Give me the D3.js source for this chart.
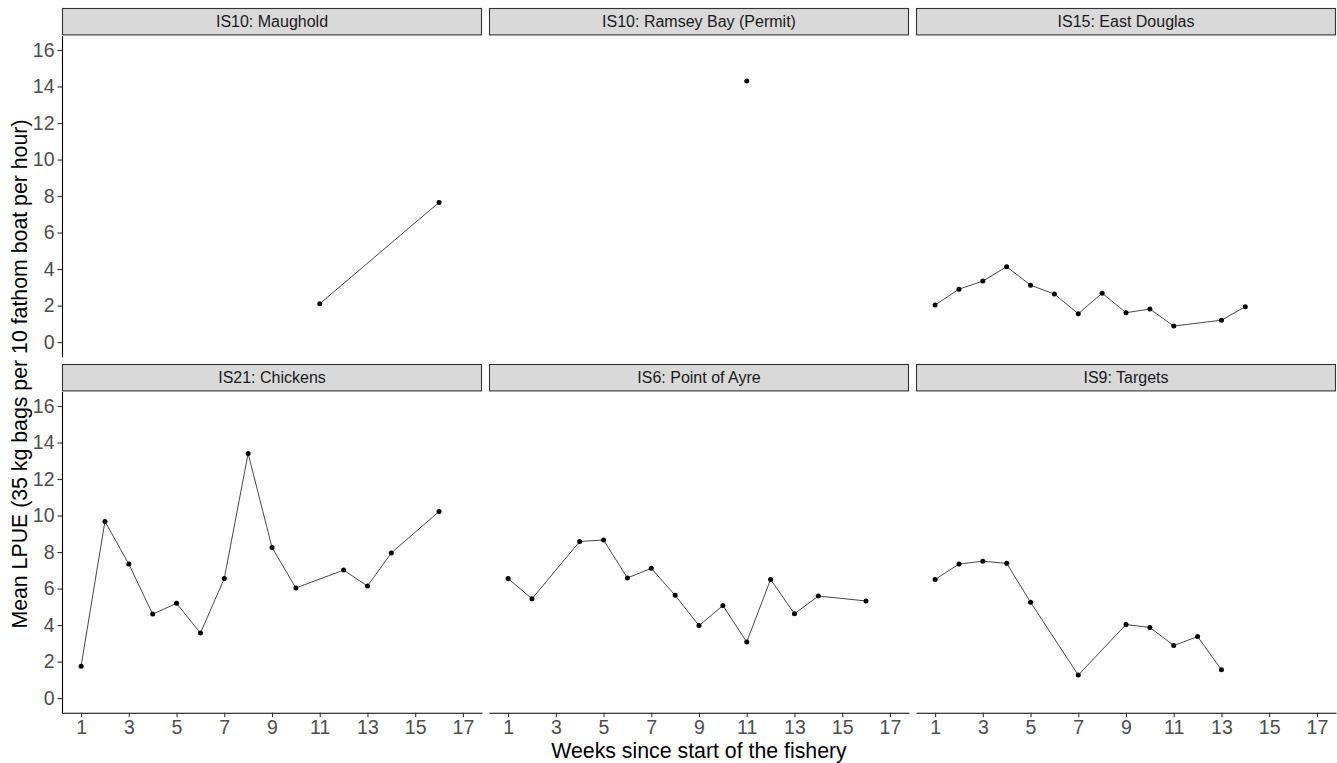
<!DOCTYPE html>
<html>
<head>
<meta charset="utf-8">
<script src="https://cdn.jsdelivr.net/npm/d3@7"></script>
<style>
  html, body { margin: 0; padding: 0; background: #fff; }
  svg { display: block; font-family: "Liberation Sans", Arial, sans-serif; }
</style>
</head>
<body>
<svg id="chart" width="1337" height="763"></svg>
<script>
// ---- Data ----
const panelNames = [
  "IS10: Maughold", "IS10: Ramsey Bay (Permit)", "IS15: East Douglas",
  "IS21: Chickens", "IS6: Point of Ayre", "IS9: Targets"
];

const weeksMaughold = [11, 16];
const lpueMaughold  = [2.1, 7.65];

const weeksRamsey = [11];
const lpueRamsey  = [14.3];

const weeksEastDouglas = [1, 2, 3, 4, 5, 6, 7, 8, 9, 10, 11, 13, 14];
const lpueEastDouglas  = [2.03, 2.9, 3.34, 4.13, 3.12, 2.63, 1.55, 2.68, 1.61, 1.81, 0.88, 1.2, 1.94];

const weeksChickens = [1, 2, 3, 4, 5, 6, 7, 8, 9, 10, 12, 13, 14, 16];
const lpueChickens  = [1.75, 9.68, 7.34, 4.6, 5.19, 3.56, 6.55, 13.4, 8.25, 6.03, 7.01, 6.14, 7.95, 10.22];

const weeksPointOfAyre = [1, 2, 4, 5, 6, 7, 8, 9, 10, 11, 12, 13, 14, 16];
const lpuePointOfAyre  = [6.55, 5.44, 8.58, 8.66, 6.58, 7.11, 5.63, 3.97, 5.07, 3.07, 6.5, 4.62, 5.59, 5.32];

const weeksTargets = [1, 2, 3, 4, 5, 7, 9, 10, 11, 12, 13];
const lpueTargets  = [6.5, 7.34, 7.5, 7.38, 5.25, 1.26, 4.03, 3.87, 2.88, 3.37, 1.55];

const xTicks = [1, 3, 5, 7, 9, 11, 13, 15, 17];
const yTicks = [0, 2, 4, 6, 8, 10, 12, 14, 16];

const xTitle = "Weeks since start of the fishery";
const yTitle = "Mean LPUE (35 kg bags per 10 fathom boat per hour)";

const panelWeeks = [weeksMaughold, weeksRamsey, weeksEastDouglas, weeksChickens, weeksPointOfAyre, weeksTargets];
const panelLpue  = [lpueMaughold, lpueRamsey, lpueEastDouglas, lpueChickens, lpuePointOfAyre, lpueTargets];

// ---- Layout ----
const svg = d3.select("#chart");
const plotLeft = 62, colW = 420, colGap = 7;
const stripTop = [8, 364], stripH = 27.4;
const panelH = 321.3;

const x = d3.scaleLinear().domain([0.2, 17.8]).range([0, colW]);
const y = d3.scaleLinear().domain([-0.8, 16.8]).range([panelH, 0]);

const line = d3.line().x(d => x(d.w)).y(d => y(d.v));

panelNames.forEach((name, i) => {
  const col = i % 3, row = Math.floor(i / 3);
  const left = plotLeft + col * (colW + colGap);
  const sTop = stripTop[row];
  const pTop = sTop + stripH;

  // strip
  svg.append("rect")
    .attr("x", left + 0.5).attr("y", sTop + 0.5)
    .attr("width", colW - 1).attr("height", stripH - 1)
    .attr("fill", "#d9d9d9").attr("stroke", "#333").attr("stroke-width", 1.1);
  svg.append("text")
    .attr("x", left + colW / 2).attr("y", sTop + stripH / 2 + 5.7)
    .attr("text-anchor", "middle")
    .attr("font-size", 16).attr("fill", "#1a1a1a")
    .text(name);

  const g = svg.append("g").attr("transform", `translate(${left},${pTop})`);

  const data = panelWeeks[i].map((w, k) => ({ w, v: panelLpue[i][k] }));

  g.append("path").datum(data)
    .attr("d", line)
    .attr("fill", "none").attr("stroke", "#333").attr("stroke-width", 0.9);
  g.selectAll("circle").data(data).enter().append("circle")
    .attr("cx", d => x(d.w)).attr("cy", d => y(d.v))
    .attr("r", 2.5).attr("fill", "#000");

  if (col === 0) {
    const ya = g.append("g")
      .call(d3.axisLeft(y).tickValues(yTicks).tickSize(4.5).tickSizeOuter(0).tickPadding(3));
    ya.select(".domain").attr("stroke", "#000").attr("stroke-width", 1.1);
    ya.selectAll(".tick line").attr("stroke", "#333").attr("stroke-width", 1.1);
    ya.selectAll(".tick text").attr("font-size", 19.5).attr("fill", "#4d4d4d")
      .attr("font-family", "Liberation Sans, Arial, sans-serif");
  }
  if (row === 1) {
    const xa = g.append("g").attr("transform", `translate(0,${panelH})`)
      .call(d3.axisBottom(x).tickValues(xTicks).tickSize(4.5).tickSizeOuter(0).tickPadding(3));
    xa.select(".domain").attr("stroke", "#000").attr("stroke-width", 1.1);
    xa.selectAll(".tick line").attr("stroke", "#333").attr("stroke-width", 1.1);
    xa.selectAll(".tick text").attr("font-size", 19.5).attr("fill", "#4d4d4d")
      .attr("font-family", "Liberation Sans, Arial, sans-serif");
  }
});

// axis titles
const plotRight = plotLeft + 3 * colW + 2 * colGap;
svg.append("text")
  .attr("x", (plotLeft + plotRight) / 2).attr("y", 758)
  .attr("text-anchor", "middle").attr("font-size", 21.3).attr("fill", "#000")
  .text(xTitle);
const yMid = (stripTop[0] + stripH + stripTop[1] + stripH + panelH) / 2;
svg.append("text")
  .attr("transform", `translate(27,${yMid}) rotate(-90)`)
  .attr("text-anchor", "middle").attr("font-size", 21.3).attr("fill", "#000")
  .text(yTitle);
</script>
</body>
</html>
